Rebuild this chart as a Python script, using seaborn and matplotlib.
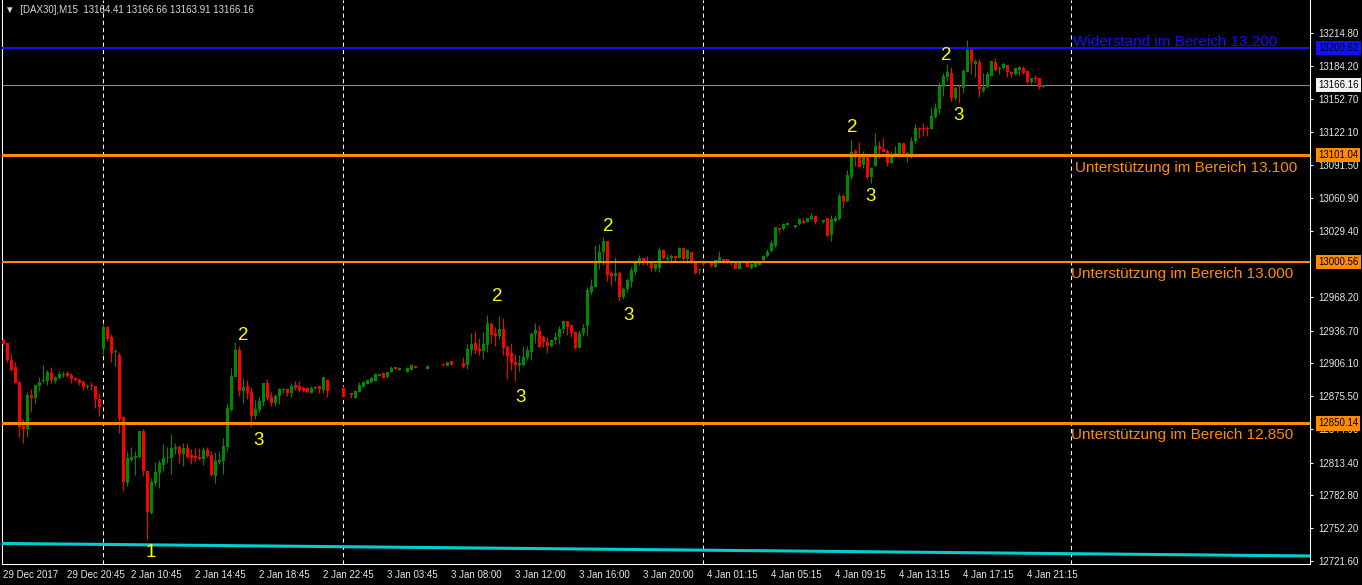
import numpy as np
import pandas as pd
import matplotlib.pyplot as plt
import matplotlib.transforms as mtransforms
import seaborn as sns

opens = [
    12928.0, 12924.9, 12909.3, 12903.1, 12889.1, 12848.0, 12844.9, 12876.7, 12874.2, 12885.1,
    12889.4, 12889.7, 12896.9, 12890.0, 12892.8, 12895.6, 12897.5, 12895.3, 12892.8, 12890.7,
    12888.8, 12884.1, 12885.4, 12885.1, 12872.6, 12919.3, 12939.9, 12931.1, 12916.5, 12914.0,
    12856.4, 12794.8, 12815.9, 12818.0, 12819.1, 12843.1, 12805.4, 12766.1, 12794.6, 12803.5,
    12811.3, 12817.9, 12818.2, 12825.9, 12828.4, 12821.6, 12827.5, 12820.6, 12820.0, 12819.1,
    12816.6, 12825.3, 12820.6, 12801.3, 12814.1, 12815.4, 12828.4, 12862.7, 12893.8, 12918.7,
    12880.4, 12885.1, 12879.5, 12857.1, 12862.9, 12870.4, 12887.6, 12875.1, 12869.5, 12875.7,
    12881.4, 12882.0, 12878.2, 12886.0, 12885.1, 12883.5, 12882.9, 12878.9, 12883.5, 12885.1,
    12881.4, 12890.7, None, None, None, 12883.5, None, 12878.9, 12874.2, 12879.8,
    12884.5, 12887.0, 12888.5, 12889.8, 12894.8, 12897.5, 12893.2, 12898.4, 12902.8, 12900.3,
    None, 12898.4, 12900.3, 12904.1, None, None, 12901.0, None, None, None,
    12905.6, 12904.1, 12908.4, None, None, 12906.9, 12904.7, 12918.7, 12925.5, 12919.3,
    12917.8, 12923.4, 12943.0, 12934.3, 12932.1, 12938.3, 12921.8, 12915.6, 12907.8, 12904.7,
    12904.7, 12911.5, 12917.1, 12933.3, 12936.4, 12931.1, 12926.5, 12922.7, 12928.0, 12930.5,
    12938.0, 12945.8, 12942.0, 12935.2, 12920.9, 12934.3, 12941.1, 12972.5, 12977.8, 12999.6,
    13010.5, 13020.5, 12990.3, 12987.8, 12991.0, 12967.9, 12976.0, 12982.5, 12991.9, 13000.0,
    13004.3, 13001.2, 13000.3, 12994.4, 12995.0, 13012.1, 13004.0, 13004.3, 13006.5, 13004.3,
    13013.7, 13003.4, 13010.6, 13002.1, 12993.7, 13000.3, None, 12999.7, 12996.5, 13002.1,
    13003.4, 13003.4, 12999.7, 13000.3, 12994.4, None, 12999.7, 12995.6, 12996.5, 12998.1,
    13002.8, 13006.5, 13011.2, 13015.9, 13033.0, 13031.7, 13035.5, None, 13033.9, 13036.4,
    13039.2, 13038.6, 13041.1, 13043.9, None, 13038.0, 13041.7, 13026.1, 13039.5, 13040.8,
    13062.6, 13058.2, 13080.6, 13104.6, 13099.3, 13091.5, 13099.3, 13080.6, 13090.9, 13109.3,
    13106.5, 13104.6, 13093.7, 13102.1, 13101.8, 13112.4, 13101.8, 13100.8, 13113.9, 13126.1,
    13126.1, 13126.1, 13125.1, 13136.4, 13143.8, 13164.7, 13174.0, 13177.1, 13153.8, 13165.3,
    13163.1, 13178.7, 13198.9, 13185.8, 13187.4, 13160.6, 13164.1, 13175.0, 13187.4, 13180.9,
    13181.8, 13184.9, 13178.7, 13176.5, 13180.2, 13181.8, 13179.3, 13169.3, 13172.7, 13172.4,
    13164.41,
]
highs = [
    12930.0, 12925.5, 12915.0, 12907.5, 12889.7, 12854.2, 12879.1, 12882.3, 12887.0, 12893.2,
    12904.7, 12900.0, 12902.5, 12894.4, 12899.4, 12899.1, 12899.4, 12896.9, 12893.5, 12892.2,
    12890.7, 12886.9, 12888.8, 12885.1, 12877.3, 12944.2, 12941.1, 12933.6, 12919.3, 12916.5,
    12857.3, 12824.3, 12828.4, 12824.7, 12843.4, 12845.0, 12805.4, 12798.8, 12813.8, 12816.0,
    12830.6, 12828.4, 12840.3, 12831.5, 12830.0, 12831.5, 12831.5, 12825.9, 12827.5, 12827.5,
    12827.8, 12827.8, 12824.4, 12823.8, 12824.4, 12836.8, 12868.9, 12901.6, 12926.5, 12922.5,
    12892.3, 12890.7, 12883.9, 12872.0, 12874.5, 12888.2, 12891.6, 12879.5, 12877.3, 12883.5,
    12883.5, 12882.9, 12888.2, 12889.8, 12889.8, 12885.1, 12883.8, 12885.1, 12885.1, 12885.1,
    12893.8, 12890.7, None, None, None, 12885.1, None, 12878.9, 12881.4, 12889.1,
    12889.5, 12891.6, 12893.8, 12897.0, 12896.6, 12897.8, 12898.5, 12903.7, 12903.0, 12902.5,
    None, 12902.5, 12905.3, 12904.4, None, None, 12904.4, None, None, None,
    12905.6, 12907.5, 12908.7, None, None, 12912.5, 12924.3, 12934.9, 12936.4, 12930.2,
    12935.2, 12951.4, 12945.2, 12939.9, 12950.5, 12948.9, 12923.4, 12925.5, 12915.0, 12914.0,
    12922.4, 12922.4, 12935.8, 12943.6, 12942.0, 12932.7, 12930.5, 12928.6, 12935.8, 12941.1,
    12946.7, 12945.8, 12942.0, 12936.4, 12937.4, 12942.7, 12977.2, 12985.0, 13016.8, 13017.7,
    13023.9, 13020.5, 12992.5, 13005.9, 12992.8, 12977.8, 12986.2, 12996.5, 13002.7, 13007.4,
    13004.3, 13006.5, 13000.3, 13000.3, 13015.2, 13013.1, 13008.4, 13008.4, 13006.5, 13015.2,
    13013.7, 13013.1, 13011.5, 13002.8, 12994.4, 13001.2, None, 13000.0, 13002.8, 13011.2,
    13003.4, 13003.4, 13000.6, 13000.3, 13000.0, None, 13000.3, 12999.7, 13000.6, 13001.2,
    13007.1, 13012.8, 13021.5, 13033.9, 13033.0, 13037.0, 13038.2, None, 13035.5, 13042.3,
    13042.3, 13042.3, 13046.4, 13043.9, None, 13040.1, 13041.7, 13044.8, 13044.8, 13065.0,
    13064.1, 13086.8, 13114.9, 13106.5, 13112.7, 13104.6, 13099.3, 13090.0, 13121.7, 13113.9,
    13117.0, 13106.5, 13104.6, 13109.3, 13113.3, 13112.4, 13104.0, 13118.0, 13129.5, 13127.3,
    13130.4, 13127.9, 13145.3, 13149.1, 13169.3, 13177.1, 13185.5, 13182.7, 13165.3, 13167.2,
    13181.2, 13208.3, 13200.5, 13190.5, 13190.5, 13177.7, 13178.7, 13188.6, 13191.1, 13184.3,
    13187.4, 13184.9, 13179.6, 13182.4, 13184.0, 13184.0, 13180.2, 13173.1, 13175.6, 13173.1,
    13166.66,
]
lows = [
    12923.0, 12907.8, 12899.1, 12887.5, 12837.7, 12832.1, 12837.7, 12861.1, 12869.5, 12880.7,
    12888.2, 12886.3, 12888.2, 12887.5, 12891.3, 12893.2, 12893.2, 12888.2, 12890.0, 12886.0,
    12881.3, 12882.6, 12881.3, 12864.5, 12857.0, 12914.0, 12927.4, 12907.8, 12903.7, 12841.5,
    12787.3, 12792.0, 12814.7, 12802.0, 12817.5, 12801.3, 12741.0, 12765.5, 12792.0, 12790.1,
    12805.7, 12812.9, 12802.9, 12821.6, 12813.5, 12810.7, 12818.2, 12812.2, 12814.4, 12816.0,
    12811.3, 12819.1, 12801.3, 12794.8, 12812.2, 12802.9, 12824.7, 12862.1, 12893.2, 12875.8,
    12869.5, 12872.6, 12847.1, 12854.0, 12861.1, 12866.4, 12872.0, 12866.4, 12866.4, 12868.3,
    12878.2, 12875.7, 12875.1, 12881.4, 12879.8, 12879.2, 12878.2, 12878.2, 12882.3, 12878.9,
    12878.2, 12875.1, None, None, None, 12874.5, None, 12874.2, 12873.6, 12879.2,
    12884.0, 12886.5, 12888.0, 12889.5, 12894.5, 12892.5, 12892.3, 12897.8, 12900.5, 12900.0,
    None, 12898.0, 12899.7, 12901.9, None, None, 12900.7, None, None, None,
    12903.8, 12903.8, 12904.4, None, None, 12902.2, 12901.0, 12914.0, 12915.0, 12914.0,
    12910.3, 12917.1, 12924.9, 12922.7, 12929.0, 12914.0, 12891.6, 12900.0, 12889.7, 12899.4,
    12904.1, 12909.3, 12909.0, 12924.9, 12921.8, 12921.8, 12916.2, 12921.8, 12924.0, 12924.0,
    12934.2, 12932.7, 12930.5, 12919.6, 12920.3, 12931.7, 12931.7, 12971.0, 12977.2, 12994.3,
    12998.1, 12983.4, 12979.4, 12983.4, 12964.8, 12966.3, 12973.2, 12977.8, 12988.7, 12998.1,
    12998.1, 12998.1, 12992.5, 12992.8, 12991.9, 13003.4, 13001.2, 13002.1, 13001.2, 13004.3,
    13002.8, 12999.7, 12999.7, 12989.7, 12989.7, 12997.2, None, 12996.5, 12996.5, 13001.2,
    12999.7, 12999.7, 12998.4, 12994.4, 12994.0, None, 12996.2, 12994.4, 12996.2, 12997.8,
    13002.5, 13005.9, 13010.6, 13015.2, 13028.3, 13030.8, 13035.2, None, 13033.0, 13035.5,
    13037.0, 13038.0, 13040.2, 13036.4, None, 13037.0, 13025.2, 13020.8, 13038.0, 13040.1,
    13051.7, 13057.3, 13078.1, 13090.9, 13089.3, 13088.4, 13078.4, 13075.0, 13090.6, 13098.4,
    13103.3, 13090.9, 13093.1, 13099.3, 13100.8, 13100.8, 13094.6, 13098.3, 13111.7, 13116.4,
    13118.6, 13118.6, 13125.1, 13135.1, 13139.1, 13155.9, 13170.3, 13151.3, 13152.2, 13149.1,
    13159.1, 13178.7, 13176.5, 13174.0, 13155.3, 13160.0, 13163.1, 13175.0, 13179.3, 13176.5,
    13181.2, 13174.0, 13173.4, 13175.6, 13175.6, 13176.2, 13167.8, 13167.2, 13168.7, 13162.5,
    13163.91,
]
closes = [
    12924.0, 12909.3, 12900.0, 12888.2, 12847.1, 12844.9, 12876.7, 12874.2, 12886.0, 12889.1,
    12890.4, 12898.5, 12890.7, 12893.5, 12896.3, 12896.2, 12894.4, 12891.6, 12890.7, 12888.2,
    12884.1, 12885.1, 12884.8, 12872.6, 12865.1, 12939.9, 12928.7, 12916.2, 12917.2, 12854.2,
    12795.7, 12817.5, 12818.4, 12819.7, 12843.1, 12806.0, 12767.7, 12795.4, 12804.4, 12812.9,
    12818.2, 12818.5, 12827.5, 12828.4, 12821.6, 12827.5, 12819.1, 12818.2, 12818.2, 12817.2,
    12825.3, 12820.0, 12801.9, 12815.0, 12816.0, 12829.1, 12864.9, 12894.4, 12918.7, 12880.4,
    12883.9, 12878.9, 12857.1, 12863.6, 12871.4, 12887.6, 12873.6, 12869.5, 12876.0, 12882.3,
    12882.0, 12878.2, 12885.1, 12882.9, 12881.4, 12880.4, 12879.8, 12883.5, 12884.4, 12882.0,
    12893.8, 12880.4, None, None, None, 12875.1, None, 12876.7, 12880.4, 12886.0,
    12888.5, 12890.7, 12892.8, 12896.3, 12896.3, 12892.9, 12898.5, 12902.2, 12901.0, 12902.2,
    None, 12902.2, 12904.7, 12902.2, None, None, 12904.1, None, None, None,
    12904.4, 12907.2, 12904.7, None, None, 12903.1, 12919.6, 12924.3, 12918.7, 12918.1,
    12924.3, 12944.2, 12932.7, 12932.1, 12938.3, 12920.9, 12913.4, 12906.2, 12904.7, 12906.9,
    12912.5, 12918.7, 12933.6, 12937.4, 12921.8, 12926.5, 12922.7, 12928.0, 12931.1, 12938.3,
    12945.8, 12940.5, 12934.9, 12920.9, 12934.9, 12939.6, 12974.7, 12978.5, 13000.3, 13010.5,
    13020.8, 12988.7, 12988.1, 12990.3, 12968.5, 12975.7, 12984.1, 12993.4, 13001.8, 13004.3,
    13001.2, 12999.7, 12995.6, 12998.7, 13012.1, 13004.3, 13004.6, 13006.5, 13004.3, 13013.7,
    13003.4, 13012.1, 13002.1, 12990.9, 12994.4, 12998.7, None, 12997.5, 13002.8, 13005.3,
    13001.2, 13000.6, 13000.6, 12994.4, 12999.7, None, 12996.5, 12999.0, 13000.3, 13000.9,
    13006.5, 13010.6, 13018.3, 13033.3, 13030.8, 13036.4, 13037.6, None, 13035.5, 13041.1,
    13037.6, 13041.7, 13043.9, 13038.6, None, 13040.1, 13025.2, 13041.1, 13042.3, 13062.6,
    13057.9, 13082.2, 13104.0, 13098.7, 13090.0, 13099.3, 13080.6, 13089.0, 13109.3, 13106.5,
    13104.0, 13093.7, 13100.8, 13102.7, 13112.4, 13101.8, 13102.4, 13113.9, 13126.4, 13125.5,
    13125.5, 13125.5, 13137.3, 13144.4, 13165.3, 13174.6, 13178.7, 13154.4, 13163.1, 13164.1,
    13179.3, 13198.9, 13187.4, 13188.6, 13162.5, 13164.1, 13176.5, 13188.6, 13180.2, 13182.4,
    13185.5, 13178.7, 13176.5, 13181.8, 13182.7, 13177.1, 13169.3, 13172.4, 13172.1, 13164.1,
    13166.16,
]

time_labels = ["29 Dec 2017", "29 Dec 20:45", "2 Jan 10:45", "2 Jan 14:45", "2 Jan 18:45",
               "2 Jan 22:45", "3 Jan 03:45", "3 Jan 08:00", "3 Jan 12:00", "3 Jan 16:00",
               "3 Jan 20:00", "4 Jan 01:15", "4 Jan 05:15", "4 Jan 09:15", "4 Jan 13:15",
               "4 Jan 17:15", "4 Jan 21:15"]
price_ticks = [13214.80, 13184.20, 13152.70, 13122.10, 13091.50, 13060.90, 13029.40,
               12968.20, 12936.70, 12906.10, 12875.50, 12844.90, 12813.40, 12782.80, 12752.20,
               12721.60]
separator_bars = [25, 85, 175, 267]

resistance = 13200.62
bid = 13166.16
support_levels = [13101.04, 13000.56, 12850.14]
support_widths = [2.2, 1.5, 2.2]
level_texts = ["Widerstand im Bereich 13.200", "Unterstützung im Bereich 13.100",
               "Unterstützung im Bereich 13.000", "Unterstützung im Bereich 12.850"]
level_text_y = [13206.4, 13088.7, 12989.7, 12839.3]
level_text_x = [267.4, 267.9, 266.9, 266.9]

trend_values = [12738.0, 12726.3]

wave_texts = ["1", "2", "3", "2", "3", "2", "3", "2", "3", "2", "3"]
wave_x = [36.9, 59.9, 63.7, 123.4, 129.2, 151.2, 156.4, 212.2, 216.7, 235.7, 238.7]
wave_y = [12729.1, 12931.8, 12833.7, 12968.2, 12873.9, 13033.6, 12950.5, 13126.1, 13061.6,
          13193.3, 13137.3]

header = "\u25bc  [DAX30],M15  13164.41 13166.66 13163.91 13166.16"

BULL = "#008a00"
BEAR = "#ff0000"
ORANGE = "#ff8c00"
BLUE = "#1010ff"
CYAN = "#00ced1"

sns.set_theme(style="dark", rc={"axes.facecolor": "black", "figure.facecolor": "black",
                                "axes.edgecolor": "white", "axes.grid": False})
plt.rcParams["font.family"] = ["Liberation Sans", "DejaVu Sans"]

df = pd.DataFrame({"open": opens, "high": highs, "low": lows, "close": closes}, dtype=float)
df["bar"] = np.arange(len(df))
df = df.dropna().reset_index(drop=True)
colors = np.where(df["close"] >= df["open"], BULL, BEAR)

W, H = 1362, 585
fig = plt.figure(figsize=(W / 100, H / 100), dpi=100)
ax = fig.add_axes([2 / W, 21 / H, 1308 / W, 564 / H])
ax.set_facecolor("black")

# Trennlinien (gestrichelt)
for b in separator_bars:
    ax.axvline(b, color="white", lw=0.75, ls=(0, (4, 3)), zorder=1)

# Kerzen
ax.vlines(df["bar"], df["low"], df["high"], colors=colors, lw=0.75, zorder=3)
body_lo = df[["open", "close"]].min(axis=1)
body_h = (df["close"] - df["open"]).abs().clip(lower=0.9)
ax.bar(df["bar"], body_h, bottom=body_lo, width=0.75, color=colors, linewidth=0, zorder=4)

# Linien
ax.axhline(bid, color="#8c8c8c", lw=0.75, zorder=2)
ax.axhline(resistance, color=BLUE, lw=1.5, zorder=5)
for lvl, lw in zip(support_levels, support_widths):
    ax.axhline(lvl, color=ORANGE, lw=lw, zorder=5)

sns.lineplot(x=[-0.33, 326.67], y=trend_values, color=CYAN, lw=2.2, ax=ax, zorder=5)

ax.set_xlim(-0.33, 326.67)
ax.set_ylim(12718.8, 13245.6)

# Achsen
ax.spines["top"].set_visible(False)
for s in ["left", "bottom", "right"]:
    ax.spines[s].set_color("white")
    ax.spines[s].set_linewidth(0.75)

ax.yaxis.tick_right()
ax.set_yticks(price_ticks)
ax.set_yticklabels([f"{v:.2f}" for v in price_ticks])
ax.set_xticks(np.arange(len(time_labels)) * 16)
ax.set_xticklabels(time_labels)
for lbl in ax.get_xticklabels():
    lbl.set_ha("left")
ax.tick_params(axis="both", colors="white", labelcolor="#e6e6e6", labelsize=7,
               length=2.2, width=0.75, direction="out")
ax.tick_params(axis="y", pad=4)
ax.tick_params(axis="x", pad=2)
ax.set_xlabel("")
ax.set_ylabel("")

# Preismarken rechts
tr = mtransforms.blended_transform_factory(ax.transAxes, ax.transData)
marks = [(resistance, BLUE, "black"), (bid, "#f2f2f2", "black")] + \
        [(v, ORANGE, "black") for v in support_levels]
for val, fc, tc in marks:
    ax.text(1.0062, val, f"{val:.2f}", transform=tr, ha="left", va="center", fontsize=7,
            color=tc, zorder=10, clip_on=False,
            bbox=dict(boxstyle="square,pad=0.22", fc=fc, ec="none"))

# Beschriftungen der Zonen
for i, txt in enumerate(level_texts):
    ax.text(level_text_x[i], level_text_y[i], txt, color=BLUE if i == 0 else ORANGE,
            fontsize=11, ha="left", va="center", zorder=6)

# Wellen-Zahlen
for txt, x, y in zip(wave_texts, wave_x, wave_y):
    ax.text(x, y, txt, color="#ffff00", fontsize=13.5, ha="center", va="center", zorder=6)

fig.text(5 / W, 1 - 10 / H, header, color="#d8d8d8", fontsize=7, va="center", ha="left")

fig.savefig("out.png", dpi=100, facecolor="black")
